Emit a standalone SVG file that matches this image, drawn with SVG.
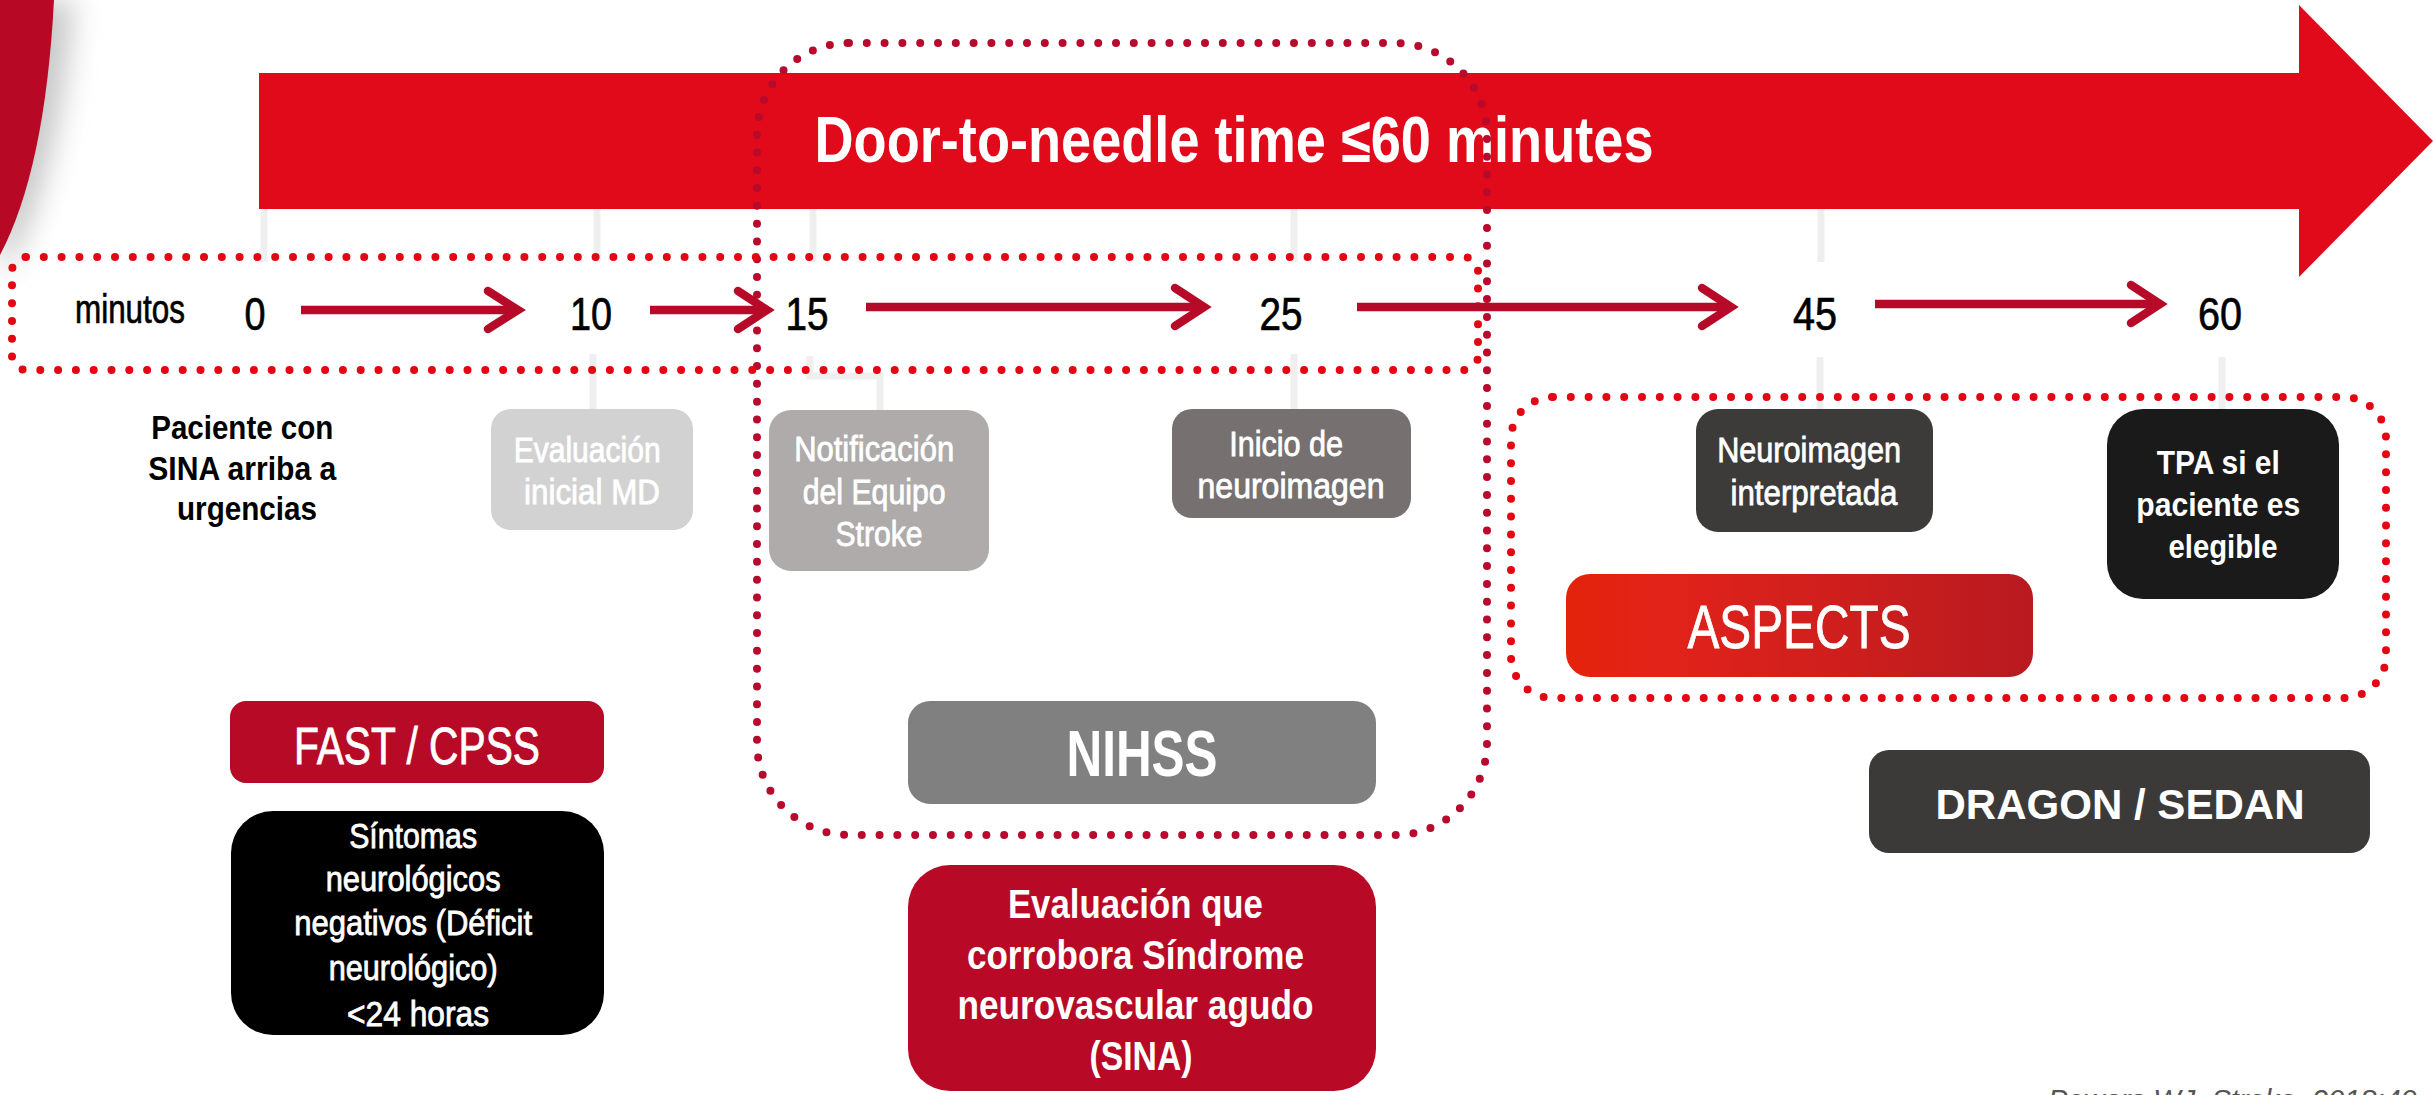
<svg xmlns="http://www.w3.org/2000/svg" width="2433" height="1095" viewBox="0 0 2433 1095">
  <defs>
    <style>
      text { font-family: "Liberation Sans", Arial, sans-serif; }
      .w { fill: #ffffff; }
      .k { fill: #000000; }
      .bold { font-weight: bold; }
      .thick-w { stroke: #ffffff; stroke-width: 0.8; }
      .thick-k { stroke: #000000; stroke-width: 0.7; }
      .tick { stroke: #efefef; stroke-width: 7; fill: none; }
      .arrow { stroke: #b70a28; stroke-width: 8.5; fill: none; stroke-linecap: butt; }
      .head { stroke: #b70a28; stroke-width: 8.5; fill: none; stroke-linecap: round; stroke-linejoin: miter; }
      .dots-red { fill: none; stroke: #e30613; stroke-width: 8; stroke-linecap: round; stroke-dasharray: 0 17.8; }
      .dots-crimson { fill: none; stroke: #b80a2c; stroke-width: 8; stroke-linecap: round; stroke-dasharray: 0 17.8; }
    </style>
    <linearGradient id="aspectsFill" x1="0" y1="0" x2="1" y2="0">
      <stop offset="0" stop-color="#e3230a"/>
      <stop offset="0.2" stop-color="#e2231a"/>
      <stop offset="1" stop-color="#b81a20"/>
    </linearGradient>
    <filter id="softShadow" x="-50%" y="-20%" width="200%" height="140%">
      <feGaussianBlur stdDeviation="14"/>
    </filter>
  </defs>

  <rect width="2433" height="1095" fill="#ffffff"/>

  <!-- corner ribbon with its soft shadow -->
  <g id="corner-ribbon">
    <path d="M0 0 H74 Q62 170 8 270 L0 270 Z" fill="#c9c9c9" filter="url(#softShadow)"/>
    <path d="M0 0 H54 Q45 170 0 255 Z" fill="#b70825"/>
  </g>

  <!-- main time arrow -->
  <g id="door-to-needle">
    <path d="M259 73 H2299 V5 L2433 141 L2299 277 V209 H259 Z" fill="#e00a1a"/>
    <text class="w bold" x="1234" y="162" font-size="64" text-anchor="middle" textLength="839" lengthAdjust="spacingAndGlyphs">Door-to-needle time ≤60 minutes</text>
  </g>

  <!-- pale guide lines under each minute mark -->
  <g id="ticks">
    <line class="tick" x1="264" y1="209" x2="264" y2="262"/>
    <line class="tick" x1="597" y1="209" x2="597" y2="262"/>
    <line class="tick" x1="813" y1="209" x2="813" y2="262"/>
    <line class="tick" x1="1294" y1="209" x2="1294" y2="262"/>
    <line class="tick" x1="1821" y1="209" x2="1821" y2="262"/>
    <line class="tick" x1="593" y1="354" x2="593" y2="409"/>
    <polyline class="tick" points="810,356 810,376 880,376 880,410"/>
    <line class="tick" x1="1294" y1="354" x2="1294" y2="409"/>
    <line class="tick" x1="1820" y1="357" x2="1820" y2="409"/>
    <line class="tick" x1="2222" y1="357" x2="2222" y2="409"/>
  </g>

  <!-- dotted groupings -->
  <g id="regions">
    <rect class="dots-crimson" x="757" y="43" width="730" height="792" rx="92" ry="92"/>
    <rect class="dots-red" x="12" y="257" width="1466" height="113" rx="14" ry="14"/>
    <rect class="dots-red" x="1511" y="397" width="875" height="301" rx="42" ry="42"/>
  </g>

  <!-- minute scale -->
  <g id="scale">
    <text class="k thick-k" x="75" y="323" font-size="40" textLength="110" lengthAdjust="spacingAndGlyphs">minutos</text>
    <text class="k thick-k" x="255" y="330" font-size="47" text-anchor="middle" textLength="21" lengthAdjust="spacingAndGlyphs">0</text>
    <text class="k thick-k" x="591" y="330" font-size="47" text-anchor="middle" textLength="42" lengthAdjust="spacingAndGlyphs">10</text>
    <text class="k thick-k" x="807" y="330" font-size="47" text-anchor="middle" textLength="43" lengthAdjust="spacingAndGlyphs">15</text>
    <text class="k thick-k" x="1281" y="330" font-size="47" text-anchor="middle" textLength="43" lengthAdjust="spacingAndGlyphs">25</text>
    <text class="k thick-k" x="1815" y="330" font-size="47" text-anchor="middle" textLength="44" lengthAdjust="spacingAndGlyphs">45</text>
    <text class="k thick-k" x="2220" y="330" font-size="47" text-anchor="middle" textLength="44" lengthAdjust="spacingAndGlyphs">60</text>
  </g>

  <!-- arrows between minute marks -->
  <g id="connectors">
    <line class="arrow" x1="301" y1="310" x2="516" y2="310"/>
    <polyline class="head" points="488,291 518,310 488,329"/>
    <line class="arrow" x1="650" y1="310" x2="764" y2="310"/>
    <polyline class="head" points="738,291 767,310 738,329"/>
    <line class="arrow" x1="866" y1="307" x2="1201" y2="307"/>
    <polyline class="head" points="1175,288 1204,307 1175,326"/>
    <line class="arrow" x1="1357" y1="307" x2="1728" y2="307"/>
    <polyline class="head" points="1702,288 1731,307 1702,326"/>
    <line class="arrow" x1="1875" y1="304" x2="2158" y2="304"/>
    <polyline class="head" points="2131,285 2160,304 2131,323"/>
  </g>

  <g id="node-paciente">
    <text class="k bold" font-size="34" text-anchor="middle">
      <tspan x="247" y="439" textLength="182" lengthAdjust="spacingAndGlyphs">Paciente con</tspan>
      <tspan x="247" y="480" textLength="188" lengthAdjust="spacingAndGlyphs">SINA arriba a</tspan>
      <tspan x="247" y="520" textLength="140" lengthAdjust="spacingAndGlyphs">urgencias</tspan>
    </text>
  </g>

  <g id="node-evaluacion-inicial">
    <rect x="491" y="409" width="202" height="121" rx="20" fill="#d3d2d2"/>
    <text class="w thick-w" font-size="35" text-anchor="middle">
      <tspan x="592" y="462" textLength="147" lengthAdjust="spacingAndGlyphs">Evaluación</tspan>
      <tspan x="592" y="504" textLength="136" lengthAdjust="spacingAndGlyphs">inicial MD</tspan>
    </text>
  </g>

  <g id="node-notificacion">
    <rect x="769" y="410" width="220" height="161" rx="22" fill="#aeabaa"/>
    <text class="w thick-w" font-size="35" text-anchor="middle">
      <tspan x="879" y="461" textLength="160" lengthAdjust="spacingAndGlyphs">Notificación</tspan>
      <tspan x="879" y="504" textLength="143" lengthAdjust="spacingAndGlyphs">del Equipo</tspan>
      <tspan x="879" y="546" textLength="87" lengthAdjust="spacingAndGlyphs">Stroke</tspan>
    </text>
  </g>

  <g id="node-inicio-neuroimagen">
    <rect x="1172" y="409" width="239" height="109" rx="20" fill="#767170"/>
    <text class="w thick-w" font-size="35" text-anchor="middle">
      <tspan x="1291" y="456" textLength="114" lengthAdjust="spacingAndGlyphs">Inicio de</tspan>
      <tspan x="1291" y="498" textLength="187" lengthAdjust="spacingAndGlyphs">neuroimagen</tspan>
    </text>
  </g>

  <g id="node-neuroimagen-interpretada">
    <rect x="1696" y="409" width="237" height="123" rx="22" fill="#3c3b3a"/>
    <text class="w thick-w" font-size="35" text-anchor="middle">
      <tspan x="1814" y="462" textLength="184" lengthAdjust="spacingAndGlyphs">Neuroimagen</tspan>
      <tspan x="1814" y="505" textLength="167" lengthAdjust="spacingAndGlyphs">interpretada</tspan>
    </text>
  </g>

  <g id="node-tpa">
    <rect x="2107" y="409" width="232" height="190" rx="36" fill="#1a1a1a"/>
    <text class="w bold" font-size="34" text-anchor="middle">
      <tspan x="2223" y="474" textLength="123" lengthAdjust="spacingAndGlyphs">TPA si el</tspan>
      <tspan x="2223" y="516" textLength="164" lengthAdjust="spacingAndGlyphs">paciente es</tspan>
      <tspan x="2223" y="558" textLength="109" lengthAdjust="spacingAndGlyphs">elegible</tspan>
    </text>
  </g>

  <g id="node-aspects">
    <rect x="1566" y="574" width="467" height="103" rx="24" fill="url(#aspectsFill)"/>
    <text class="w thick-w" x="1799" y="648" font-size="62" text-anchor="middle" textLength="223" lengthAdjust="spacingAndGlyphs">ASPECTS</text>
  </g>

  <g id="node-fast-cpss">
    <rect x="230" y="701" width="374" height="82" rx="16" fill="#b70a27"/>
    <text class="w thick-w" x="417" y="764" font-size="52" text-anchor="middle" textLength="246" lengthAdjust="spacingAndGlyphs">FAST / CPSS</text>
  </g>

  <g id="node-sintomas">
    <rect x="231" y="811" width="373" height="224" rx="42" fill="#000000"/>
    <text class="w thick-w" font-size="35" text-anchor="middle">
      <tspan x="418" y="848" textLength="128" lengthAdjust="spacingAndGlyphs">Síntomas</tspan>
      <tspan x="418" y="891" textLength="175" lengthAdjust="spacingAndGlyphs">neurológicos</tspan>
      <tspan x="418" y="935" textLength="238" lengthAdjust="spacingAndGlyphs">negativos (Déficit</tspan>
      <tspan x="418" y="980" textLength="169" lengthAdjust="spacingAndGlyphs">neurológico)</tspan>
      <tspan x="418" y="1026" textLength="142" lengthAdjust="spacingAndGlyphs">&lt;24 horas</tspan>
    </text>
  </g>

  <g id="node-nihss">
    <rect x="908" y="701" width="468" height="103" rx="22" fill="#808080"/>
    <text class="w bold" x="1142" y="776" font-size="64" text-anchor="middle" textLength="151" lengthAdjust="spacingAndGlyphs">NIHSS</text>
  </g>

  <g id="node-sina">
    <rect x="908" y="865" width="468" height="226" rx="42" fill="#b80a26"/>
    <text class="w bold" font-size="40" text-anchor="middle">
      <tspan x="1141" y="918" textLength="255" lengthAdjust="spacingAndGlyphs">Evaluación que</tspan>
      <tspan x="1141" y="969" textLength="337" lengthAdjust="spacingAndGlyphs">corrobora Síndrome</tspan>
      <tspan x="1141" y="1019" textLength="356" lengthAdjust="spacingAndGlyphs">neurovascular agudo</tspan>
      <tspan x="1141" y="1070" textLength="103" lengthAdjust="spacingAndGlyphs">(SINA)</tspan>
    </text>
  </g>

  <g id="node-dragon-sedan">
    <rect x="1869" y="750" width="501" height="103" rx="20" fill="#3c3a38"/>
    <text class="w bold" x="2120" y="819" font-size="42" text-anchor="middle" textLength="369" lengthAdjust="spacingAndGlyphs">DRAGON / SEDAN</text>
  </g>

  <g id="citation">
    <text x="2048" y="1110" font-size="29" font-style="italic" fill="#555555" textLength="369" lengthAdjust="spacingAndGlyphs">Powers WJ. Stroke. 2018;49</text>
  </g>
</svg>
